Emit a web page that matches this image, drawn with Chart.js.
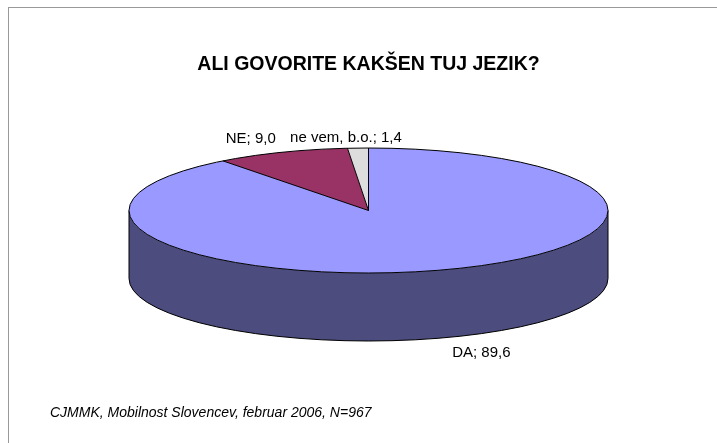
<!DOCTYPE html>
<html>
<head>
<meta charset="utf-8">
<script src="https://cdn.jsdelivr.net/npm/chart.js@4"></script>
<style>
    body { margin: 0; background: #fff; }
    #wrap { width: 717px; height: 443px; }
</style>
</head>
<body>
<div id="wrap"><canvas id="pieChart"></canvas></div>
<script>
const categories = ['DA', 'NE', 'ne vem, b.o.'];
const values = [89.6, 9.0, 1.4];
const valueLabels = ['89,6', '9,0', '1,4'];
const topColors = ['#9999FF', '#993366', '#DDDDDD'];
const sideColors = ['#4C4C7E', '#4C1933', '#6E6E6E'];

const titleText = 'ALI GOVORITE KAKŠEN TUJ JEZIK?';
const footerText = 'CJMMK, Mobilnost Slovencev, februar 2006, N=967';

// where the flattened pie goes on the page
const CX = 368.5, CY = 210.5, RX = 239.5, RY = 62.5, DEPTH = 68;
// label nudges from the slice mid point (best fit like in the original)
const labelNudge = [[36, 15], [-31, -13], [-12, -10]];

const FONT = '"Liberation Sans", Arial, sans-serif';

function ellPt(a, dy) {
    return [CX + RX * Math.cos(a), CY + (dy || 0) + RY * Math.sin(a)];
}

const pie3d = {
    id: 'pie3d',
    beforeDraw(chart) {
        const ctx = chart.ctx;
        ctx.save();
        ctx.strokeStyle = '#999999';
        ctx.lineWidth = 1;
        ctx.strokeRect(8.5, 7.5, 800, 500);
        ctx.restore();
    },
    beforeDatasetsDraw(chart) {
        const ctx = chart.ctx;
        const arcs = chart.getDatasetMeta(0).data;

        // side walls, only the front half is visible
        ctx.save();
        ctx.strokeStyle = '#000';
        ctx.lineWidth = 1;
        arcs.forEach((arc, i) => {
            for (let k = -1; k <= 1; k++) {
                const lo = Math.max(arc.startAngle, 2 * Math.PI * k);
                const hi = Math.min(arc.endAngle, Math.PI + 2 * Math.PI * k);
                if (lo >= hi) continue;
                ctx.beginPath();
                ctx.ellipse(CX, CY, RX, RY, 0, lo, hi);
                ctx.ellipse(CX, CY + DEPTH, RX, RY, 0, hi, lo, true);
                ctx.closePath();
                ctx.fillStyle = sideColors[i];
                ctx.fill();
            }
        });
        // outline of the side
        ctx.beginPath();
        ctx.moveTo(CX - RX, CY);
        ctx.lineTo(CX - RX, CY + DEPTH);
        ctx.ellipse(CX, CY + DEPTH, RX, RY, 0, Math.PI, 0, true);
        ctx.lineTo(CX + RX, CY);
        ctx.stroke();
        ctx.restore();

        // squash the library's pie into the top face
        const a0 = arcs[0];
        const R = a0.outerRadius;
        ctx.save();
        ctx.translate(CX, CY);
        ctx.scale(RX / R, RY / R);
        ctx.translate(-a0.x, -a0.y);
    },
    afterDatasetsDraw(chart) {
        const ctx = chart.ctx;
        ctx.restore();
        const arcs = chart.getDatasetMeta(0).data;

        ctx.save();
        ctx.strokeStyle = '#000';
        ctx.lineWidth = 1;
        ctx.beginPath();
        ctx.ellipse(CX, CY, RX, RY, 0, 0, 2 * Math.PI);
        ctx.stroke();
        ctx.beginPath();
        arcs.forEach(arc => {
            const p = ellPt(arc.startAngle);
            ctx.moveTo(CX, CY);
            ctx.lineTo(p[0], p[1]);
        });
        ctx.stroke();

        // data labels
        ctx.fillStyle = '#000';
        ctx.font = '15px ' + FONT;
        ctx.textAlign = 'center';
        ctx.textBaseline = 'middle';
        arcs.forEach((arc, i) => {
            const mid = (arc.startAngle + arc.endAngle) / 2;
            const front = Math.sin(mid) > 0;
            const p = ellPt(mid, front ? DEPTH : 0);
            ctx.fillText(categories[i] + '; ' + valueLabels[i],
                p[0] + labelNudge[i][0], p[1] + labelNudge[i][1]);
        });

        ctx.font = 'italic 14px ' + FONT;
        ctx.textAlign = 'left';
        ctx.fillText(footerText, 50, 413);
        ctx.restore();
    }
};

const ctx = document.getElementById('pieChart').getContext('2d');
const chart = new Chart(ctx, {
    type: 'pie',
    data: {
        labels: categories,
        datasets: [{
            data: values,
            backgroundColor: topColors,
            borderWidth: 0
        }]
    },
    options: {
        responsive: true,
        maintainAspectRatio: false,
        animation: false,
        events: [],
        layout: { padding: { left: 20, right: 0, top: 0, bottom: 40 } },
        plugins: {
            legend: { display: false },
            tooltip: { enabled: false },
            title: {
                display: true,
                text: titleText,
                color: '#000',
                font: { family: FONT, size: 19.5, weight: 'bold' },
                padding: { top: 53, bottom: 10 }
            }
        }
    },
    plugins: [pie3d]
});
</script>
</body>
</html>
